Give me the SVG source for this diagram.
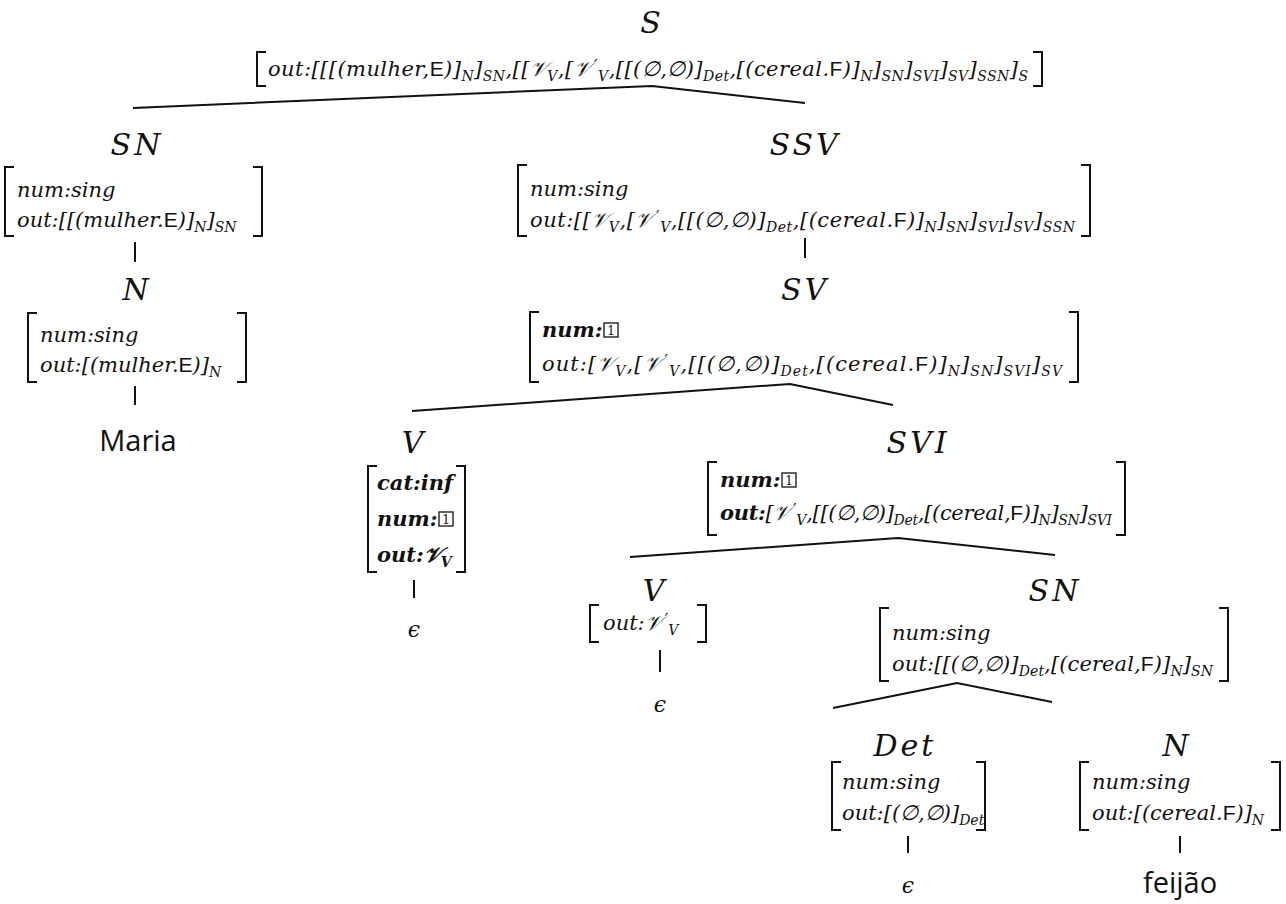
<svg xmlns="http://www.w3.org/2000/svg" width="1286" height="904" viewBox="0 0 1286 904">
<style>
  .lbl{font-family:"DejaVu Serif","Liberation Serif",serif;font-style:italic;font-size:30px;letter-spacing:3px;text-anchor:middle;fill:#111}
  .f{font-family:"DejaVu Serif","Liberation Serif",serif;font-style:italic;font-size:21px;fill:#111}
  .b{font-weight:bold}
  .sub{font-size:14px;baseline-shift:-5px}
  .pr{font-style:normal;font-size:16px;baseline-shift:5px}
  .sf{font-family:"Liberation Sans",sans-serif;font-style:normal}
  .br{fill:none;stroke:#111;stroke-width:2}
  .edge{fill:none;stroke:#111;stroke-width:2}
  .box{fill:none;stroke:#111;stroke-width:1.3}
  .one{font-family:"DejaVu Serif",serif;font-size:12px;text-anchor:middle;fill:#111}
  .word{font-family:"Open Sans","DejaVu Sans",sans-serif;font-size:29px;text-anchor:middle;fill:#111}
  .eps{font-family:"DejaVu Serif",serif;font-style:italic;font-size:22px;text-anchor:middle;fill:#111}
</style>

<!-- tree edges -->
<g id="edges">
  <path class="edge" d="M133 108 L652 86 L805 103"/>
  <path class="edge" d="M135 242 V262"/>
  <path class="edge" d="M135 386 V405"/>
  <path class="edge" d="M805 238 V258"/>
  <path class="edge" d="M412 411 L790 384 L893 405"/>
  <path class="edge" d="M414 580 V598"/>
  <path class="edge" d="M630 557 L898 538 L1055 555"/>
  <path class="edge" d="M660 650 V672"/>
  <path class="edge" d="M833 708 L957 683 L1052 702"/>
  <path class="edge" d="M908 836 V853"/>
  <path class="edge" d="M1180 836 V853"/>
</g>

<!-- S -->
<g id="node-S">
  <text class="lbl" x="652" y="33">S</text>
  <path class="br" d="M266 52 H257 V86 H266"/>
  <path class="br" d="M1033 52 H1042 V86 H1033"/>
  <text class="f" x="268" y="76" textLength="760" lengthAdjust="spacing">out:[[[(mulher,<tspan class="sf">E</tspan>)]<tspan class="sub">N</tspan>]<tspan class="sub">SN</tspan>,[[𝒱<tspan class="sub">V</tspan>,[𝒱<tspan class="pr" dx="3">′</tspan><tspan class="sub">V</tspan>,[[(∅,∅)]<tspan class="sub">Det</tspan>,[(cereal.<tspan class="sf">F</tspan>)]<tspan class="sub">N</tspan>]<tspan class="sub">SN</tspan>]<tspan class="sub">SVI</tspan>]<tspan class="sub">SV</tspan>]<tspan class="sub">SSN</tspan>]<tspan class="sub">S</tspan></text>
</g>

<!-- SN (subject) -->
<g id="node-SN1">
  <text class="lbl" x="137" y="155">SN</text>
  <path class="br" d="M14 167 H5 V236 H14"/>
  <path class="br" d="M253 167 H262 V236 H253"/>
  <text class="f" x="17" y="197">num:sing</text>
  <text class="f" x="17" y="227">out:[[(mulher.<tspan class="sf">E</tspan>)]<tspan class="sub">N</tspan>]<tspan class="sub">SN</tspan></text>
</g>

<!-- N (Maria) -->
<g id="node-N1">
  <text class="lbl" x="137" y="300">N</text>
  <path class="br" d="M37 313 H28 V382 H37"/>
  <path class="br" d="M237 313 H246 V382 H237"/>
  <text class="f" x="40" y="342">num:sing</text>
  <text class="f" x="40" y="372">out:[(mulher.<tspan class="sf">E</tspan>)]<tspan class="sub">N</tspan></text>
</g>
<g id="leaf-Maria">
  <text class="word" x="138" y="451">Maria</text>
</g>

<!-- SSV -->
<g id="node-SSV">
  <text class="lbl" x="805" y="155">SSV</text>
  <path class="br" d="M527 165 H518 V236 H527"/>
  <path class="br" d="M1081 165 H1090 V236 H1081"/>
  <text class="f" x="530" y="196">num:sing</text>
  <text class="f" x="530" y="227" textLength="545" lengthAdjust="spacing">out:[[𝒱<tspan class="sub">V</tspan>,[𝒱<tspan class="pr" dx="3">′</tspan><tspan class="sub">V</tspan>,[[(∅,∅)]<tspan class="sub">Det</tspan>,[(cereal.<tspan class="sf">F</tspan>)]<tspan class="sub">N</tspan>]<tspan class="sub">SN</tspan>]<tspan class="sub">SVI</tspan>]<tspan class="sub">SV</tspan>]<tspan class="sub">SSN</tspan></text>
</g>

<!-- SV -->
<g id="node-SV">
  <text class="lbl" x="805" y="300">SV</text>
  <path class="br" d="M539 312 H530 V382 H539"/>
  <path class="br" d="M1069 312 H1078 V382 H1069"/>
  <text class="f b" x="542" y="337">num:</text>
  <rect class="box" x="604" y="323" width="14" height="14"/>
  <text class="one" x="611" y="335">1</text>
  <text class="f" x="542" y="371" textLength="520" lengthAdjust="spacing">out:[𝒱<tspan class="sub">V</tspan>,[𝒱<tspan class="pr" dx="3">′</tspan><tspan class="sub">V</tspan>,[[(∅,∅)]<tspan class="sub">Det</tspan>,[(cereal.<tspan class="sf">F</tspan>)]<tspan class="sub">N</tspan>]<tspan class="sub">SN</tspan>]<tspan class="sub">SVI</tspan>]<tspan class="sub">SV</tspan></text>
</g>

<!-- V (infinitive) -->
<g id="node-V1">
  <text class="lbl" x="414" y="453">V</text>
  <path class="br" d="M377 466 H368 V572 H377"/>
  <path class="br" d="M456 466 H465 V572 H456"/>
  <text class="f b" x="377" y="490">cat:inf</text>
  <text class="f b" x="377" y="526">num:</text>
  <rect class="box" x="439" y="512" width="14" height="14"/>
  <text class="one" x="446" y="524">1</text>
  <text class="f b" x="377" y="562">out:𝒱<tspan class="sub">V</tspan></text>
</g>
<g id="leaf-eps1">
  <text class="eps" x="414" y="637">ϵ</text>
</g>

<!-- SVI -->
<g id="node-SVI">
  <text class="lbl" x="918" y="453">SVI</text>
  <path class="br" d="M717 462 H708 V535 H717"/>
  <path class="br" d="M1116 462 H1125 V535 H1116"/>
  <text class="f b" x="720" y="487">num:</text>
  <rect class="box" x="782" y="473" width="14" height="14"/>
  <text class="one" x="789" y="485">1</text>
  <text class="f" x="720" y="520" textLength="392" lengthAdjust="spacing"><tspan class="b">out:</tspan>[𝒱<tspan class="pr" dx="3">′</tspan><tspan class="sub">V</tspan>,[[(∅,∅)]<tspan class="sub">Det</tspan>,[(cereal,<tspan class="sf">F</tspan>)]<tspan class="sub">N</tspan>]<tspan class="sub">SN</tspan>]<tspan class="sub">SVI</tspan></text>
</g>

<!-- V (verb) -->
<g id="node-V2">
  <text class="lbl" x="655" y="601">V</text>
  <path class="br" d="M599 605 H590 V642 H599"/>
  <path class="br" d="M697 605 H706 V642 H697"/>
  <text class="f" x="603" y="630">out:𝒱<tspan class="pr" dx="3">′</tspan><tspan class="sub">V</tspan></text>
</g>
<g id="leaf-eps2">
  <text class="eps" x="660" y="712">ϵ</text>
</g>

<!-- SN (object) -->
<g id="node-SN2">
  <text class="lbl" x="1055" y="601">SN</text>
  <path class="br" d="M889 608 H880 V681 H889"/>
  <path class="br" d="M1219 608 H1228 V681 H1219"/>
  <text class="f" x="892" y="640">num:sing</text>
  <text class="f" x="892" y="671" textLength="321" lengthAdjust="spacing">out:[[(∅,∅)]<tspan class="sub">Det</tspan>,[(cereal,<tspan class="sf">F</tspan>)]<tspan class="sub">N</tspan>]<tspan class="sub">SN</tspan></text>
</g>

<!-- Det -->
<g id="node-Det">
  <text class="lbl" x="905" y="756">Det</text>
  <path class="br" d="M841 762 H832 V830 H841"/>
  <path class="br" d="M976 762 H985 V830 H976"/>
  <text class="f" x="842" y="789">num:sing</text>
  <text class="f" x="842" y="820">out:[(∅,∅)]<tspan class="sub">Det</tspan></text>
</g>
<g id="leaf-eps3">
  <text class="eps" x="908" y="893">ϵ</text>
</g>

<!-- N (feijão) -->
<g id="node-N2">
  <text class="lbl" x="1177" y="756">N</text>
  <path class="br" d="M1089 762 H1080 V830 H1089"/>
  <path class="br" d="M1271 762 H1280 V830 H1271"/>
  <text class="f" x="1092" y="789">num:sing</text>
  <text class="f" x="1092" y="820">out:[(cereal.<tspan class="sf">F</tspan>)]<tspan class="sub">N</tspan></text>
</g>
<g id="leaf-feijao">
  <text class="word" x="1180" y="893">feijão</text>
</g>
</svg>
